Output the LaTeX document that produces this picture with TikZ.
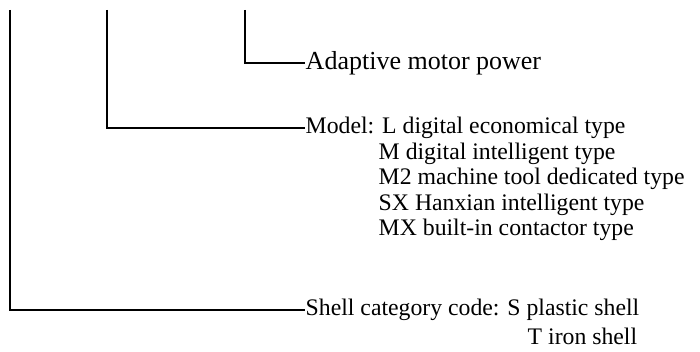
\documentclass[tikz,border=0pt]{standalone}
\usepackage{fontspec}
\setmainfont{Liberation Serif}
\usetikzlibrary{positioning}

\begin{document}
\begin{tikzpicture}[x=0.75pt, y=-0.75pt, line width=1.1pt, black]
    \useasboundingbox (0,0) rectangle (700,352);
    %Nodes
    \begin{scope}[every node/.style={anchor=west, inner sep=0pt, font=\fontsize{17.8}{19}\selectfont}]
    \node (power)   at (305,63)  [font=\fontsize{19.5}{21}\selectfont] {Adaptive motor power};
    \node (model)   at (305,128) {Model: L digital economical type};
    \node (modelM)  at (378,153.5) {M digital intelligent type};
    \node (modelMT) at (378,179) {M2 machine tool dedicated type};
    \node (modelSX) at (378,204.5) {SX Hanxian intelligent type};
    \node (modelMX) at (378,230) {MX built-in contactor type};
    \node (shell)   at (305,310) {Shell category code: S plastic shell};
    \node (shellT)  at (527,336) {T iron shell};
    \end{scope}

    % Line tops
    \coordinate (topShell) at (10,10);
    \coordinate (topModel) at (107,10);
    \coordinate (topPower) at (245,10);

    %Lines
    \draw (topPower) |- (power.west);
    \draw (topModel) |- (model.west);
    \draw (topShell) |- (shell.west);
\end{tikzpicture}
\end{document}
